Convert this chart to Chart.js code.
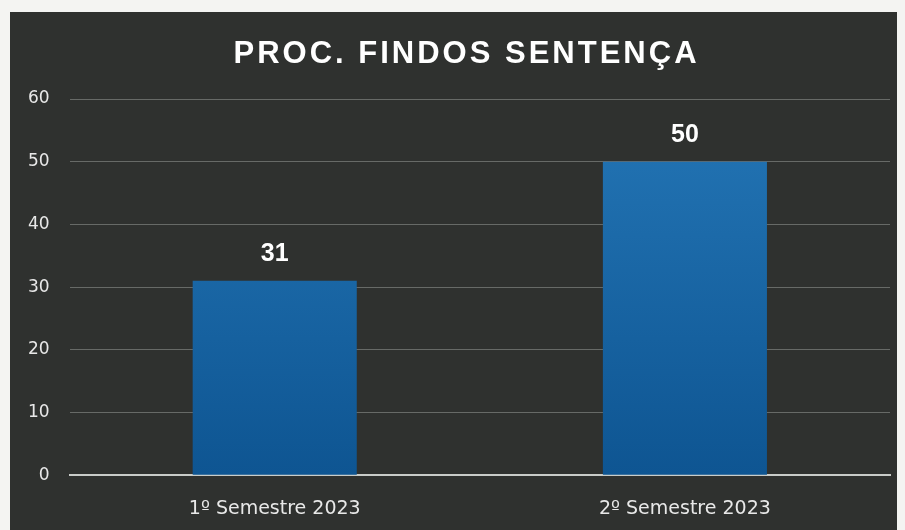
<!DOCTYPE html>
<html>
<head>
<meta charset="utf-8">
<script src="https://cdn.jsdelivr.net/npm/chart.js@4.4.0/dist/chart.umd.min.js"></script>
<style>
  html, body { margin: 0; padding: 0; background: #f4f4f2; }
  #wrap { position: absolute; left: 10px; top: 12px; width: 887px; height: 518px; background: #2f312f; }
</style>
</head>
<body>
<div id="wrap"><canvas id="barChart" width="887" height="518"></canvas></div>
<script>
const chartTitle = 'PROC. FINDOS SENTENÇA';
const categories = ['1º Semestre 2023', '2º Semestre 2023'];
const findosValues = [31, 50];
const yTicks = [0, 10, 20, 30, 40, 50, 60];

// title drawn by hand so it can get letter spacing
const titlePlugin = {
  id: 'spacedTitle',
  afterDraw(chart) {
    const ctx = chart.ctx;
    ctx.save();
    ctx.font = 'bold 31px "Liberation Sans", Arial, sans-serif';
    ctx.letterSpacing = '3px';
    ctx.fillStyle = '#ffffff';
    ctx.textAlign = 'center';
    ctx.textBaseline = 'middle';
    ctx.fillText(chartTitle, chart.width / 2 + 13, 42);
    ctx.restore();
  }
};

// value labels above the bars
const valueLabels = {
  id: 'valueLabels',
  afterDatasetsDraw(chart) {
    const ctx = chart.ctx;
    const meta = chart.getDatasetMeta(0);
    ctx.save();
    ctx.font = 'bold 25px "Liberation Sans", Arial, sans-serif';
    ctx.fillStyle = '#ffffff';
    ctx.textAlign = 'center';
    ctx.textBaseline = 'middle';
    meta.data.forEach((bar, i) => {
      ctx.fillText(String(chart.data.datasets[0].data[i]), bar.x, bar.y - 27);
    });
    ctx.restore();
  }
};

const barFill = (context) => {
  const area = context.chart.chartArea;
  if (!area) return '#1a64a3';
  const g = context.chart.ctx.createLinearGradient(0, area.top, 0, area.bottom);
  g.addColorStop(0, '#2476b6');
  g.addColorStop(1, '#0e5592');
  return g;
};

new Chart(document.getElementById('barChart'), {
  type: 'bar',
  data: {
    labels: categories,
    datasets: [
      {
        label: chartTitle,
        data: findosValues,
        backgroundColor: barFill,
        borderWidth: 0,
        categoryPercentage: 1,
        barPercentage: 0.4,
      },
    ],
  },
  options: {
    responsive: false,
    animation: false,
    layout: { padding: { top: 87, left: -2, right: 7, bottom: -4 } },
    plugins: {
      legend: { display: false },
      tooltip: { enabled: false },
      title: { display: false },
    },
    scales: {
      x: {
        grid: { display: false },
        border: { color: '#c9ccc9', width: 2 },
        ticks: {
          color: '#e8e8e8',
          font: { family: '"DejaVu Sans", sans-serif', size: 19 },
          padding: 14,
        },
      },
      y: {
        min: 0,
        max: 60,
        afterBuildTicks: (axis) => { axis.ticks = yTicks.map((v) => ({ value: v })); },
        grid: { color: 'rgba(195, 200, 195, 0.38)', lineWidth: 1, drawTicks: false },
        border: { display: false },
        ticks: {
          color: '#e8e8e8',
          font: { family: '"DejaVu Sans", sans-serif', size: 17 },
          padding: 20,
        },
      },
    },
  },
  plugins: [titlePlugin, valueLabels],
});
</script>
</body>
</html>
